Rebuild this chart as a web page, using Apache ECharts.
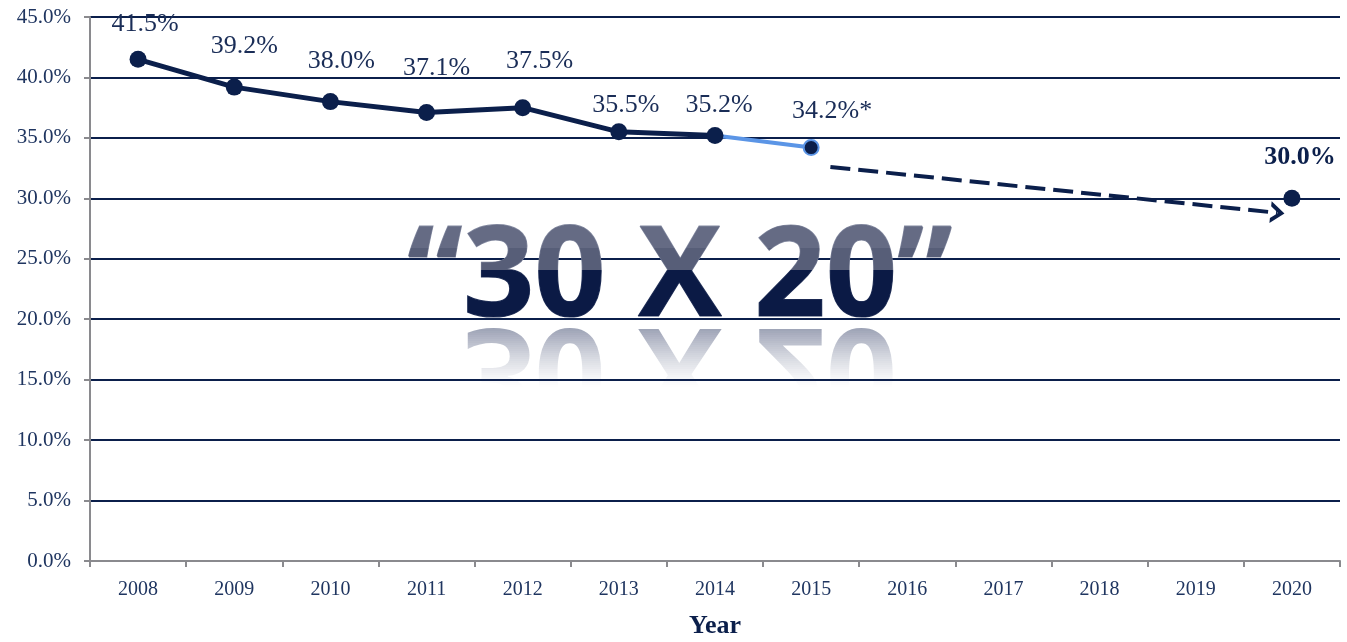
<!DOCTYPE html>
<html>
<head>
<meta charset="utf-8">
<script src="https://cdn.jsdelivr.net/npm/echarts@6/dist/echarts.min.js"></script>
<style>
html,body{margin:0;padding:0;background:#fff;}
#chart{width:1347px;height:642px;}
</style>
</head>
<body>
<div id="chart"></div>
<script>
var years = ['2008','2009','2010','2011','2012','2013','2014','2015','2016','2017','2018','2019','2020'];
var actualRates = [41.5, 39.2, 38.0, 37.1, 37.5, 35.5, 35.2, null, null, null, null, null, null];
var estimateRates = [null, null, null, null, null, null, 35.2, 34.2, null, null, null, null, null];
var goalRates = [null, null, null, null, null, null, null, null, null, null, null, null, 30.0];
var trendX = [7.2, 11.85];
var trendY = [32.6, 28.8];
var yTicks = [0, 5, 10, 15, 20, 25, 30, 35, 40, 45];
var goalText = '\u201C30 X 20\u201D';

// label placement (style only)
var labelGap = [14, 19, 19, 23, 25, 5, 9, 15, 0, 0, 0, 0, 20];
var labelShift = [7, 10, 11, 10, 17, 7, 4, 21, 0, 0, 0, 0, 8];

var navy = '#0b1f4b';
var lightBlue = '#5b95e6';
var serif = '"Liberation Serif", "DejaVu Serif", serif';

function withLabels(arr) {
  return arr.map(function (v, i) {
    if (v === null) return null;
    return {value: v, label: {distance: labelGap[i], offset: [labelShift[i], 0]}};
  });
}

var chart = echarts.init(document.getElementById('chart'));

var option = {
  animation: false,
  grid: {left: 90, right: 7, top: 17, bottom: 81, containLabel: false, outerBoundsMode: 'none'},
  xAxis: [{
    type: 'category',
    data: years,
    boundaryGap: true,
    axisLine: {lineStyle: {color: '#8a8a8e', width: 2}},
    axisTick: {show: true, length: 6, lineStyle: {color: '#8a8a8e', width: 2}},
    axisLabel: {color: '#1f3560', fontFamily: serif, fontSize: 20, margin: 19},
    name: 'Year',
    nameLocation: 'middle',
    nameGap: 52,
    nameTextStyle: {color: navy, fontFamily: serif, fontSize: 26, fontWeight: 'bold'}
  }, {
    type: 'value',
    min: -0.5,
    max: 12.5,
    show: false
  }],
  yAxis: {
    type: 'value',
    min: yTicks[0],
    max: yTicks[yTicks.length - 1],
    interval: 5,
    axisLine: {show: true, onZero: false, lineStyle: {color: '#8a8a8e', width: 2}},
    axisTick: {show: true, length: 6, lineStyle: {color: '#8a8a8e', width: 2}},
    axisLabel: {
      color: '#1f3560', fontFamily: serif, fontSize: 21, margin: 19,
      formatter: function (v) { return v.toFixed(1) + '%'; }
    },
    splitLine: {show: true, lineStyle: {color: navy, width: 2}}
  },
  series: [
    {
      type: 'line',
      name: 'estimate',
      data: withLabels(estimateRates),
      z: 3,
      lineStyle: {color: lightBlue, width: 4},
      symbol: 'circle',
      symbolSize: function (v, p) { return p.dataIndex === 7 ? 15 : 0; },
      itemStyle: {color: navy, borderColor: lightBlue, borderWidth: 2},
      label: {
        show: true, position: 'top',
        fontFamily: serif, fontSize: 26, color: '#1a2d57',
        formatter: function (p) { return p.dataIndex === 7 ? p.value + '%*' : ''; }
      }
    },
    {
      type: 'line',
      name: 'actual',
      data: withLabels(actualRates),
      z: 4,
      lineStyle: {color: navy, width: 5},
      symbol: 'circle',
      symbolSize: 17,
      itemStyle: {color: navy},
      label: {
        show: true, position: 'top',
        fontFamily: serif, fontSize: 26, color: '#1a2d57',
        formatter: function (p) { return p.value.toFixed(1) + '%'; }
      }
    },
    {
      type: 'line',
      name: 'goal',
      data: withLabels(goalRates),
      z: 4,
      symbol: 'circle',
      symbolSize: 17,
      itemStyle: {color: navy},
      label: {
        show: true, position: 'top',
        fontFamily: serif, fontSize: 26, fontWeight: 'bold', color: navy,
        formatter: function (p) { return p.value.toFixed(1) + '%'; }
      }
    },
    {
      type: 'line',
      name: 'trend',
      xAxisIndex: 1,
      data: [],
      z: 4,
      markLine: {
        silent: true,
        symbol: ['none', 'path://M0,22 L11,0 L22,22 L17,22 L11,10 L5,22 Z'],
        symbolSize: [22, 14],
        label: {show: false},
        lineStyle: {color: navy, width: 4, type: [20, 8]},
        data: [[
          {coord: [trendX[0], trendY[0]], symbol: 'none'},
          {coord: [trendX[1], trendY[1]]}
        ]]
      }
    }
  ]
};
chart.setOption(option);

// Decorative "30 X 20" headline with two-tone fill and fading reflection
(function () {
  var zr = chart.getZr();
  var cx = 680, base = 322, fontPx = 125;
  var font = 'bold ' + fontPx + 'px "Open Sans", "Noto Sans", sans-serif';
  var bottomPad = 21;
  function makeText(fill, opacity, scaleY, originY, clipTop, clipBottom, stroke) {
    var t = new echarts.graphic.Text({
      x: cx, y: originY, scaleY: scaleY, z: 1, silent: true,
      style: {
        text: goalText, x: 0, y: bottomPad,
        align: 'center', verticalAlign: 'bottom',
        font: font, fill: fill, opacity: opacity,
        stroke: stroke || null, lineWidth: stroke ? 1.2 : 0
      }
    });
    t.setClipPath(new echarts.graphic.Rect({
      shape: {x: -700, y: clipTop, width: 1400, height: clipBottom - clipTop}
    }));
    zr.add(t);
  }
  // local y is relative to the glyph baseline (base)
  var split = 270 - base;
  makeText('#656b84', 1, 1, base, -200, split - 22, '#8a90a6');
  makeText('#575e78', 1, 1, base, split - 22, split, '#7a8098');
  makeText('#0b1a45', 1, 1, base, split, 40, '#2c3a60');
  // reflection: mirrored copy in thin pixel-aligned strips with decreasing opacity
  var mirror = base + 1;
  var strips = 32, stripH = 2;
  for (var i = 0; i < strips; i++) {
    var op = 0.6 * Math.pow(1 - i / strips, 1.3);
    makeText('#4c5679', op, -1, mirror, -(i + 1) * stripH, -i * stripH);
  }
})();
</script>
</body>
</html>
